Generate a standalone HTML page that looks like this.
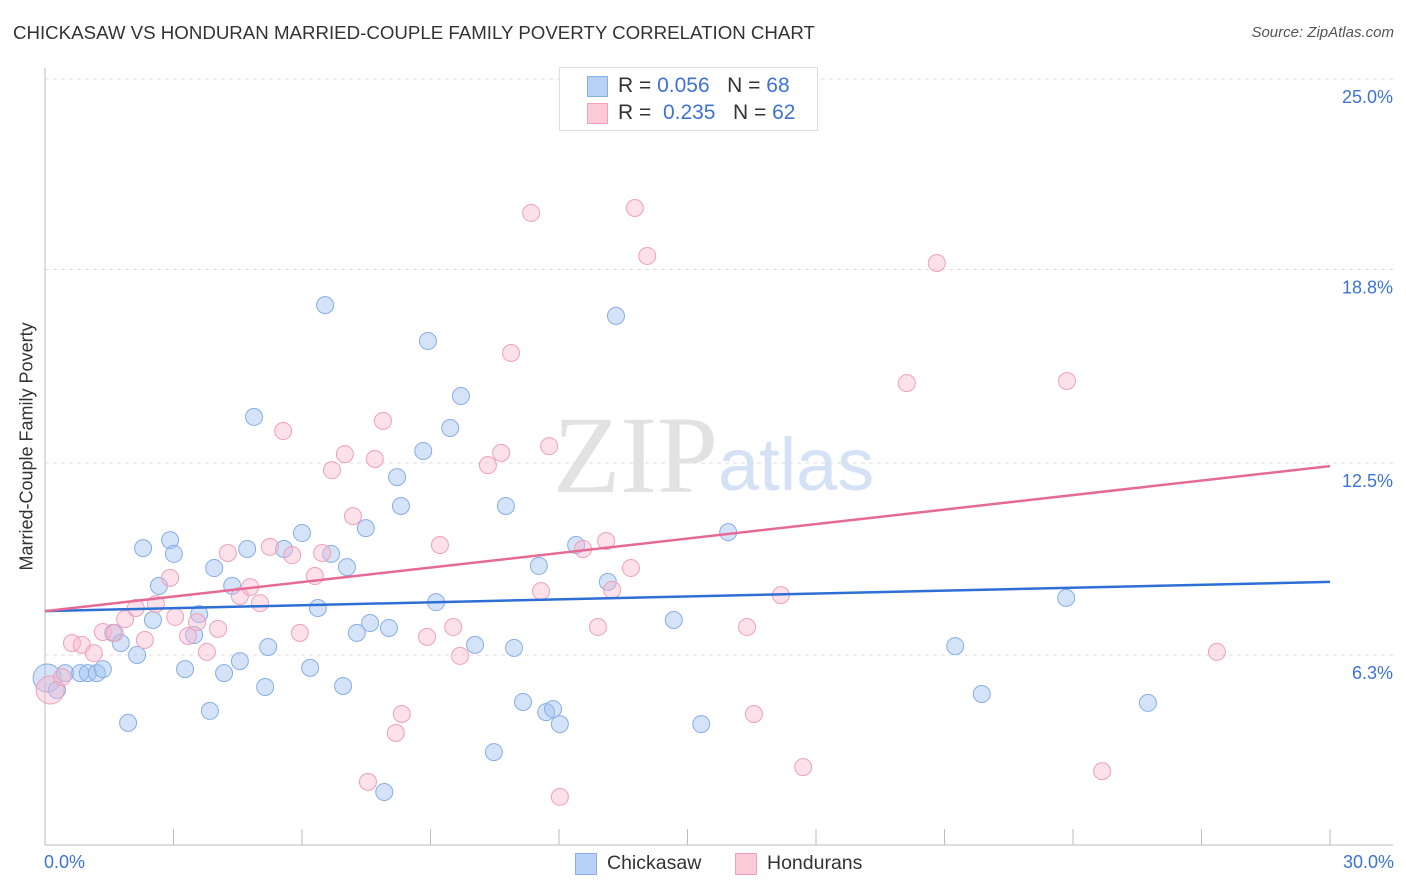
<!DOCTYPE html>
<html><head><meta charset="utf-8"><style>
body{margin:0;background:#fff;font-family:"Liberation Sans",sans-serif}
#wrap{position:relative;width:1406px;height:892px;overflow:hidden}
.t{position:absolute;white-space:nowrap}
</style></head><body>
<div id="wrap">
<div class="t" style="left:13px;top:22px;font-size:18.7px;color:#333">CHICKASAW VS HONDURAN MARRIED-COUPLE FAMILY POVERTY CORRELATION CHART</div>
<div class="t" style="right:12px;top:24px;font-size:15px;color:#555;font-style:italic">Source: ZipAtlas.com</div>
<svg id="svg" width="1406" height="892" style="position:absolute;left:0;top:0"></svg>
</div>
<script>
const blueX=[0.05,0.28,0.47,0.82,1.00,1.21,1.35,1.59,1.77,1.94,2.15,2.29,2.52,2.66,2.92,3.01,3.27,3.48,3.60,3.85,3.95,4.18,4.37,4.55,4.72,4.88,5.14,5.21,5.58,6.00,6.19,6.37,6.54,6.68,6.96,7.05,7.28,7.49,7.59,8.03,7.92,8.22,8.31,8.83,8.94,9.13,9.46,9.71,10.04,10.48,10.76,10.95,11.16,11.53,11.70,11.86,12.02,12.40,13.14,13.33,14.68,15.32,15.95,21.25,21.87,23.84,25.75];
const blueY=[5.50,5.11,5.66,5.66,5.66,5.66,5.79,6.97,6.64,4.04,6.25,9.73,7.39,8.50,9.99,9.54,5.79,6.90,7.58,4.43,9.08,5.66,8.50,6.05,9.70,14.00,5.21,6.51,9.70,10.22,5.83,7.78,17.64,9.54,5.24,9.11,6.97,10.38,7.29,7.13,1.79,12.04,11.10,12.89,16.47,7.97,13.64,14.68,6.58,3.09,11.10,6.48,4.72,9.15,4.39,4.49,4.00,9.83,8.63,17.29,7.39,4.00,10.25,6.54,4.98,8.11,4.69];
const pinkX=[0.12,0.40,0.63,0.86,1.14,1.35,1.63,1.87,2.12,2.33,2.59,2.92,3.04,3.34,3.55,3.78,4.04,4.27,4.55,4.79,5.02,5.25,5.56,5.77,5.95,6.30,6.47,6.70,7.00,7.19,7.54,7.70,7.89,8.19,8.33,8.92,9.22,9.53,9.69,10.34,10.65,10.88,11.35,11.58,11.77,12.02,12.56,12.91,13.10,13.24,13.68,13.77,14.06,16.39,16.55,17.18,17.70,20.12,20.82,23.86,24.68,27.36];
const pinkY=[5.11,5.53,6.64,6.58,6.31,7.00,6.97,7.42,7.78,6.74,7.91,8.76,7.49,6.87,7.32,6.35,7.10,9.57,8.17,8.46,7.94,9.77,13.54,9.50,6.97,8.82,9.57,12.27,12.79,10.77,2.12,12.63,13.87,3.71,4.33,6.84,9.83,7.16,6.22,12.43,12.83,16.08,20.64,8.33,13.05,1.63,9.70,7.16,9.96,8.37,9.08,20.80,19.24,7.16,4.33,8.20,2.60,15.10,19.01,15.17,2.47,6.35];
const trendX=[0,30];
const blueTrend=[7.68,8.63];
const pinkTrend=[7.68,12.40];
const yTicks=[6.3,12.5,18.8,25.0];
const yTickLabels=["6.3%","12.5%","18.8%","25.0%"];
const xTicks=[0,3,6,9,12,15,18,21,24,27,30];
const X0=45,X1=1330,YB=847,PX=30.72;
const sx=v=>X0+(v/30)*(X1-X0);
const sy=v=>YB-v*PX;
const svg=document.getElementById('svg');
const NS='http://www.w3.org/2000/svg';
function mk(tag,a,p){const e=document.createElementNS(NS,tag);for(const k in a)e.setAttribute(k,a[k]);(p||svg).appendChild(e);return e;}
yTicks.forEach((v,i)=>{
 const yy=sy(v===6.3?6.25:v);
 const g=mk('line',{x1:X0,x2:1393,y1:yy,y2:yy,stroke:'#ddd','stroke-dasharray':'4,4'});
 
 
 const t=mk('text',{x:1393,y:yy+24,'text-anchor':'end','font-size':18,fill:'#3d73d6','font-family':'Liberation Sans, sans-serif'});
 t.textContent=yTickLabels[i];
 
 
});
const ax=mk('line',{x1:X0,x2:X0,y1:68,y2:845,stroke:'#bbb'});


const bx=mk('line',{x1:X0,x2:1393,y1:845,y2:845,stroke:'#bbb'});


xTicks.forEach(v=>{
 const l=mk('line',{x1:sx(v),x2:sx(v),y1:829,y2:845,stroke:'#bbb'});
 
 
});
const wm=mk('text',{x:553,y:492,'font-size':110,fill:'#e2e2e2','font-family':'Liberation Serif, serif'});wm.textContent='ZIP';


const wm2=mk('text',{x:718,y:490,'font-size':74,fill:'#d5e2f5','font-family':'Liberation Sans, sans-serif'});wm2.textContent='atlas';


function pts(xs,ys,fill,stroke,name){
 xs.forEach((x,i)=>{
  const r=i===0?14:8.5;
  const c=mk('circle',{cx:sx(x),cy:sy(ys[i]),r:r,fill:fill,stroke:stroke,'stroke-width':1});
  
  
 });
}
pts(blueX,blueY,'rgba(160,192,240,0.45)','#88aee6','chickasaw-point');
pts(pinkX,pinkY,'rgba(248,182,204,0.42)','#f0a0bb','honduran-point');
const tb=mk('line',{x1:sx(trendX[0]),x2:sx(trendX[1]),y1:sy(blueTrend[0]),y2:sy(blueTrend[1]),stroke:'#2e6fd6','stroke-width':2.5});


const tp=mk('line',{x1:sx(trendX[0]),x2:sx(trendX[1]),y1:sy(pinkTrend[0]),y2:sy(pinkTrend[1]),stroke:'#e66a96','stroke-width':2.5});


</script>
<div class="t" style="left:44px;top:852px;font-size:18px;color:#3d73d6">0.0%</div>
<div class="t" style="right:12px;top:852px;font-size:18px;color:#3d73d6">30.0%</div>
<div class="t" style="left:-88px;top:445px;font-size:18px;color:#333;transform:rotate(-90deg);width:230px;text-align:center">Married-Couple Family Poverty</div>
<div style="position:absolute;left:559px;top:67px;width:257px;height:62px;border:1px solid #ddd;background:#fff">
 <div style="position:absolute;left:27px;top:8px;width:19px;height:19px;background:#b9d1f6;border:1px solid #88aee6"></div>
 <div class="t" style="left:58px;top:6px;font-size:21px;color:#333">R = <span style="color:#3d73d6">0.056</span>&nbsp;&nbsp;&nbsp;N = <span style="color:#3d73d6">68</span></div>
 <div style="position:absolute;left:27px;top:35px;width:19px;height:19px;background:#fbcbd9;border:1px solid #f0a0bb"></div>
 <div class="t" style="left:58px;top:33px;font-size:21px;color:#333">R = &nbsp;<span style="color:#3d73d6">0.235</span>&nbsp;&nbsp;&nbsp;N = <span style="color:#3d73d6">62</span></div>
</div>
<div style="position:absolute;left:575px;top:853px;width:20px;height:20px;background:#b9d1f6;border:1px solid #88aee6"></div>
<div class="t" style="left:607px;top:852px;font-size:19.5px;color:#333">Chickasaw</div>
<div style="position:absolute;left:735px;top:853px;width:20px;height:20px;background:#fbcbd9;border:1px solid #f0a0bb"></div>
<div class="t" style="left:767px;top:852px;font-size:19.5px;color:#333">Hondurans</div>
</body></html>
